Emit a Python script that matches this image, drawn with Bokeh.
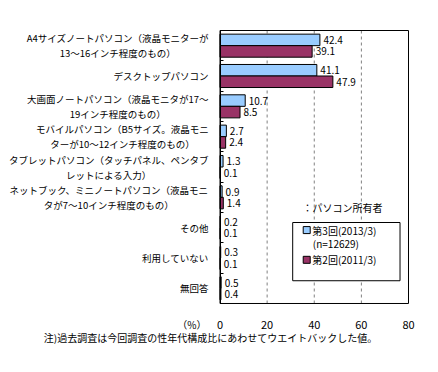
from bokeh.plotting import figure
from bokeh.models import ColumnDataSource, Range1d, FixedTicker
from bokeh.core.properties import value
from bokeh.embed import file_html
from bokeh.resources import INLINE

FONT = "Noto Sans CJK JP"

categories = [
    "A4サイズノートパソコン（液晶モニターが\n13～16インチ程度のもの）",
    "デスクトップパソコン",
    "大画面ノートパソコン（液晶モニタが17～\n19インチ程度のもの）",
    "モバイルパソコン（B5サイズ。液晶モニ\nターが10～12インチ程度のもの）",
    "タブレットパソコン（タッチパネル、ペンタブ\nレットによる入力）",
    "ネットブック、ミニノートパソコン（液晶モニ\nタが7～10インチ程度のもの）",
    "その他",
    "利用していない",
    "無回答",
]
series_names = ["第3回(2013/3)", "第2回(2011/3)"]
series_note = "(n=12629)"
round3 = [42.4, 41.1, 10.7, 2.7, 1.3, 0.9, 0.2, 0.3, 0.5]
round2 = [39.1, 47.9, 8.5, 2.4, 0.1, 1.4, 0.1, 0.1, 0.4]
x_ticks = [0, 20, 40, 60, 80]
grid_ticks = [20, 40, 60]
legend_title = "：パソコン所有者"
unit_label = "（%）"
footnote = "注)過去調査は今回調査の性年代構成比にあわせてウエイトバックした値。"

colors = ["#99CCFF", "#993366"]
n = len(categories)
bar_h = 0.38
XMAX = 80
PX_PER_X = 188.5 / XMAX      # data box is 188.5 px wide
CAT_FS = 9.5                 # category label font size (px)

# frame spans the whole canvas; data box is x 0..80, y 0..n
p = figure(width=438, height=372, output_backend="svg", toolbar_location=None,
           x_range=Range1d(-219.5 / PX_PER_X, XMAX + 30 / PX_PER_X),
           y_range=Range1d(n + 69 / 30.33, -30 / 30.33),
           min_border=0)
p.outline_line_color = None
p.background_fill_color = "white"
p.grid.visible = False

# x axis labels at the bottom of the data box
p.xaxis.fixed_location = n
p.xaxis.bounds = (0, XMAX)
p.xaxis.ticker = FixedTicker(ticks=x_ticks)
p.xaxis.axis_line_color = None
p.xaxis.major_tick_line_color = None
p.xaxis.minor_tick_line_color = None
p.xaxis.major_label_text_font = FONT
p.xaxis.major_label_text_font_size = "11px"
p.xaxis.major_label_text_color = "black"
p.xaxis.major_label_standoff = 12

# y axis: category boundary ticks, no labels
p.yaxis.fixed_location = 0
p.yaxis.bounds = (0, n)
p.yaxis.ticker = FixedTicker(ticks=list(range(1, n)))
p.yaxis.major_label_overrides = {i: "" for i in range(1, n)}
p.yaxis.major_label_text_color = None
p.yaxis.major_tick_in = 3
p.yaxis.major_tick_out = 0
p.yaxis.minor_tick_line_color = None
p.yaxis.axis_line_color = "black"
p.yaxis.major_tick_line_color = "black"

# dashed gridlines inside the data box
p.segment(x0=grid_ticks, x1=grid_ticks, y0=[0] * len(grid_ticks), y1=[n] * len(grid_ticks),
          line_color="#808080", line_dash="3 3", line_width=1)

# data box border
p.quad(left=[0], right=[XMAX], top=[0], bottom=[n], fill_alpha=0, line_color="black", line_width=1)

for k, vals in enumerate([round3, round2]):
    offs = -bar_h / 2 if k == 0 else bar_h / 2
    ys = [i + 0.5 + offs for i in range(n)]
    src = ColumnDataSource(dict(y=ys, v=vals, t=[f"{v:.1f}" for v in vals]))
    p.hbar(y="y", left=0, right="v", height=bar_h, source=src,
           fill_color=colors[k], line_color="black", line_width=1)
    p.text(x="v", y="y", text="t", source=src, x_offset=3.5,
           text_baseline="middle", text_align="left",
           text_font=value(FONT), text_font_size="10px", text_color="black")

def est_width(s):
    return sum(0.56 if ord(ch) < 128 else 1.0 for ch in s) * CAT_FS

# category labels: block right edge 11.5 px left of the box, lines centred on the first
label_right = -11.5 / PX_PER_X
single = dict(x=[], y=[], t=[])
multi = dict(x=[], y=[], t=[])
for i, c in enumerate(categories):
    lines = c.split("\n")
    if len(lines) == 1:
        single["x"].append(label_right); single["y"].append(i + 0.5); single["t"].append(lines[0])
    else:
        cx = label_right - est_width(lines[0]) / 2 / PX_PER_X
        for j, ln in enumerate(lines):
            multi["x"].append(cx)
            multi["y"].append(i + 0.5 + (-0.245 if j == 0 else 0.25))
            multi["t"].append(ln)
p.text(x="x", y="y", text="t", source=ColumnDataSource(single), text_align="right",
       text_baseline="middle", text_font=value(FONT), text_font_size=f"{CAT_FS}px",
       text_color="black")
p.text(x="x", y="y", text="t", source=ColumnDataSource(multi), text_align="center",
       text_baseline="middle", text_font=value(FONT), text_font_size=f"{CAT_FS}px",
       text_color="black")

# legend
p.quad(left=[30.85], right=[76.4], top=[6.33], bottom=[8.25],
       fill_color="white", line_color="black", line_width=1)
leg_y = [6.58, 7.56]
p.scatter(x=[36.8, 36.8], y=leg_y, marker="square", size=7, fill_color=colors, line_color="black")
p.text(x=[39.2, 39.2, 39.4, 35.0], y=leg_y + [7.03, 5.84],
       text=series_names + [series_note, legend_title],
       text_align="left", text_baseline="middle", text_font=value(FONT),
       text_font_size="10px", text_color="black")

# unit and footnote
p.text(x=[-13.5 / PX_PER_X], y=[n + 21 / 30.33], text=[unit_label], text_align="right",
       text_baseline="middle", text_font=value(FONT), text_font_size="10px", text_color="black")
p.text(x=[-9.5 / PX_PER_X], y=[n + 34 / 30.33], text=[footnote], text_align="center",
       text_baseline="middle", text_font=value(FONT), text_font_size="10px", text_color="black")

open("out.html", "w").write(file_html(p, INLINE))
